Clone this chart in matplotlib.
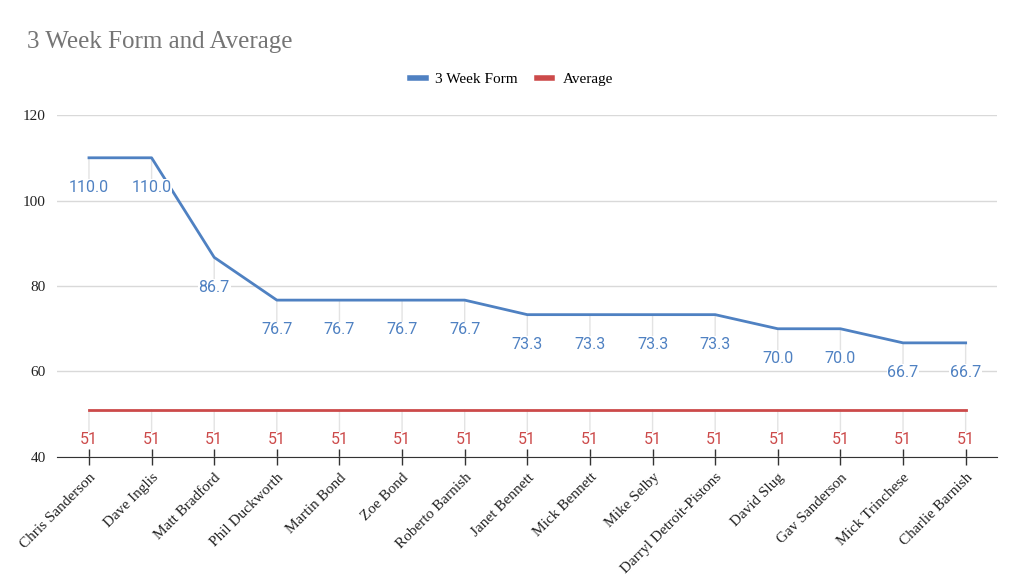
import matplotlib
matplotlib.use("Agg")
import matplotlib.pyplot as plt

players = ["Chris Sanderson", "Dave Inglis", "Matt Bradford", "Phil Duckworth",
           "Martin Bond", "Zoe Bond", "Roberto Barnish", "Janet Bennett",
           "Mick Bennett", "Mike Selby", "Darryl Detroit-Pistons", "David Slug",
           "Gav Sanderson", "Mick Trinchese", "Charlie Barnish"]
form = [110.0, 110.0, 86.7, 76.7, 76.7, 76.7, 76.7, 73.3, 73.3, 73.3, 73.3,
        70.0, 70.0, 66.7, 66.7]
average = [51] * len(players)
yticks = [40, 60, 80, 100, 120]

BLUE = "#4f81c2"
RED = "#cc4a4a"
SERIF = ["Liberation Serif", "DejaVu Serif"]
SANS = ["Roboto", "DejaVu Sans"]

fig = plt.figure(figsize=(10.24, 5.87), dpi=100)
ax = fig.add_axes([0.0557, 0.2215, 0.9179, 0.5825])

x = list(range(len(players)))
ax.plot(x, form, color=BLUE, lw=2, label="3 Week Form", zorder=3)
ax.plot(x, average, color=RED, lw=2, label="Average", zorder=3)

for series, color, fmt in ((form, BLUE, "{:.1f}"), (average, RED, "{:d}")):
    for xi, v in zip(x, series):
        ax.annotate("", xy=(xi, v), xytext=(0, -20), textcoords="offset points",
                    arrowprops=dict(arrowstyle="-", color="#e3e3e3", lw=1,
                                    shrinkA=0, shrinkB=0), zorder=1)
        ax.annotate(fmt.format(v), xy=(xi, v), xytext=(0, -21.5),
                    textcoords="offset points", ha="center", va="center",
                    color=color, fontsize=11.5, family=SANS,
                    bbox=dict(boxstyle="square,pad=0.05", fc="white", ec="none"),
                    zorder=4)

ax.set_xlim(-0.51, 14.5)
ax.set_ylim(40, 120)
ax.set_yticks(yticks)
ax.set_yticklabels([str(t) for t in yticks], family=SERIF, fontsize=11, color="#222222")
ax.set_xticks(x)
ax.set_xticklabels(players, rotation=45, ha="right", va="top", rotation_mode="anchor",
                   family=SERIF, fontsize=11, color="#222222")
ax.tick_params(axis="y", length=0, pad=8)
ax.tick_params(axis="x", direction="inout", length=12, width=1, color="#333333", pad=4)
ax.grid(axis="y", color="#d9d9d9", lw=1, zorder=0)
for s in ["top", "right", "left"]:
    ax.spines[s].set_visible(False)
ax.spines["bottom"].set_color("#333333")
ax.spines["bottom"].set_zorder(5)

leg = fig.legend(handles=ax.get_lines(), loc="center", bbox_to_anchor=(0.4995, 0.865),
                 ncol=2, frameon=False, prop={"family": SERIF, "size": 11},
                 handlelength=1.0, handletextpad=0.65, columnspacing=1.25)
for h in leg.legend_handles:
    h.set_linewidth(4)

fig.text(0.026, 0.928, "3 Week Form and Average", family=SERIF, fontsize=18,
         color="#757575", ha="left", va="center")

fig.savefig("out.png", dpi=100)
